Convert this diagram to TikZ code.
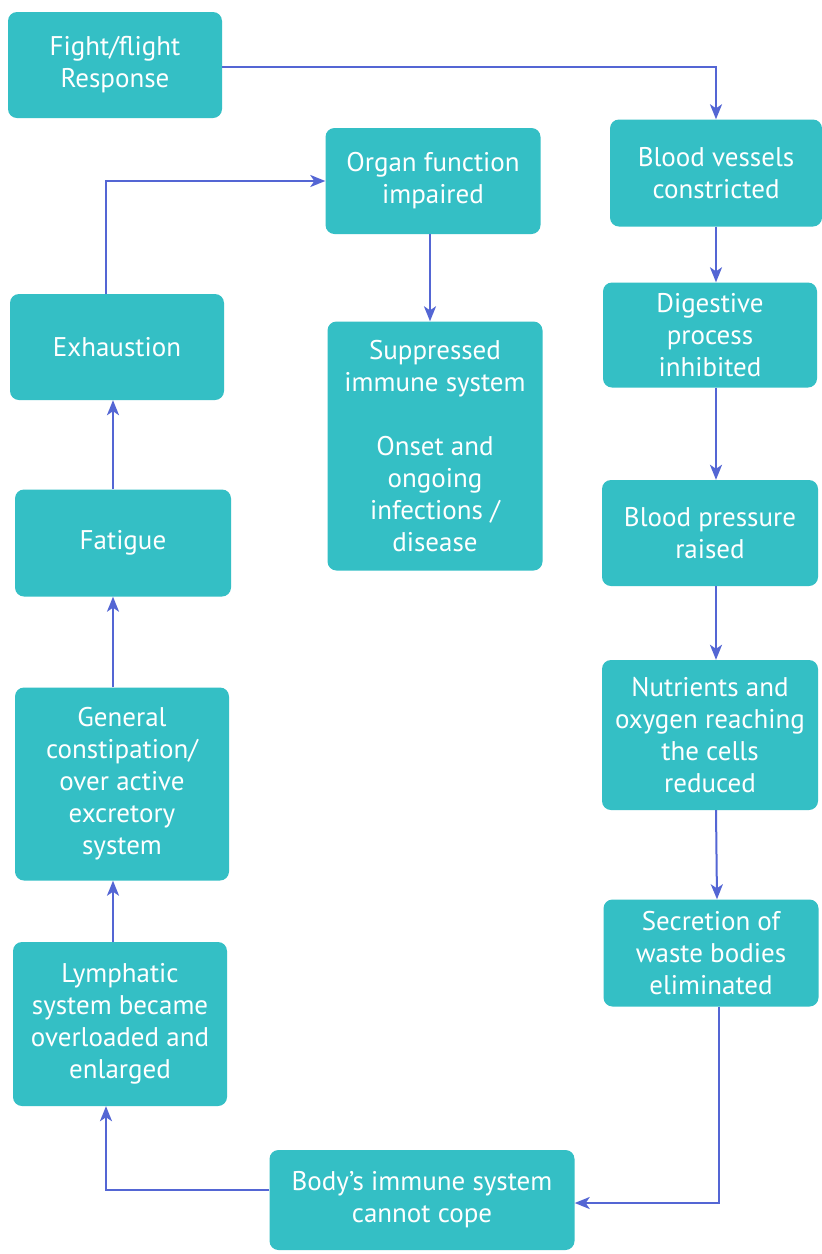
\documentclass[tikz,border=0pt]{standalone}
\usepackage{fontspec}
\setmainfont{PT Sans}
\usetikzlibrary{arrows.meta, positioning, calc}

\definecolor{boxteal}{RGB}{52,191,197}
\definecolor{flowblue}{RGB}{84,102,212}

\tikzset{
  box/.style={fill=boxteal, draw=none, rounded corners=9pt, text=white,
    align=center, font=\fontsize{27}{32}\selectfont, inner sep=4pt},
  flow/.style={draw=flowblue, line width=2pt,
    -{Stealth[length=15pt,width=12pt,inset=4pt]}}
}

\begin{document}
\begin{tikzpicture}[x=1pt,y=-1pt]

\useasboundingbox[fill=white] (0,0) rectangle (822,1254);

% left column
\node[box, minimum width=214pt, minimum height=106pt] (fight) at (115,65) {Fight/flight\\Response};
\node[box, minimum width=214pt, minimum height=106pt] (exhaust) at (117,347) {Exhaustion};
\node[box, minimum width=216pt, minimum height=107pt] (fatigue) at (123,543) {Fatigue};
\node[box, minimum width=214pt, minimum height=193pt] (general) at (122,784) {General\\constipation/\\over active\\excretory\\system};
\node[box, minimum width=214pt, minimum height=164pt] (lymph) at (120,1024) {Lymphatic\\system became\\overloaded and\\enlarged};

% middle column
\node[box, minimum width=215pt, minimum height=106pt] (organ) at (433,181) {Organ function\\impaired};
\node[box, minimum width=215pt, minimum height=249pt] (suppressed) at (435,446) {Suppressed\\immune system\\[32pt]Onset and\\ongoing\\infections /\\disease};
\node[box, minimum width=305pt, minimum height=100pt] (body) at (422,1200) {Body’s immune system\\cannot cope};

% right column
\node[box, minimum width=212pt, minimum height=107pt] (vessels) at (716,173) {Blood vessels\\constricted};
\node[box, minimum width=214pt, minimum height=105pt] (digestive) at (710,335) {Digestive\\process\\inhibited};
\node[box, minimum width=216pt, minimum height=106pt] (pressure) at (710,533) {Blood pressure\\raised};
\node[box, minimum width=216pt, minimum height=150pt] (nutrients) at (710,735) {Nutrients and\\oxygen reaching\\the cells\\reduced};
\node[box, minimum width=215pt, minimum height=107pt] (secretion) at (711,953) {Secretion of\\waste bodies\\eliminated};

% connectors
\draw[flow] ([yshift=-2pt]fight.east) -| (vessels.north);
\draw[flow] (vessels.south) -- (vessels.south |- digestive.north);
\draw[flow] ([xshift=6pt]digestive.south) -- ([xshift=6pt]pressure.north);
\draw[flow] ([xshift=6pt]pressure.south) -- ([xshift=6pt]nutrients.north);
\draw[flow] ([xshift=6pt]nutrients.south) -- ([xshift=6pt]secretion.north);
\draw[flow] ([xshift=8pt]secretion.south) |- ([yshift=-3pt]body.east);
\draw[flow] ([yshift=10pt]body.west) -| ([xshift=-14pt]lymph.south);
\draw[flow] ([xshift=-7pt]lymph.north) -- ([xshift=-9pt]general.south);
\draw[flow] ([xshift=-9pt]general.north) -- ([xshift=-10pt]fatigue.south);
\draw[flow] ([xshift=-10pt]fatigue.north) -- ([xshift=-4pt]exhaust.south);
\draw[flow] ([xshift=-11pt]exhaust.north) |- (organ.west);
\draw[flow] ([xshift=-3pt]organ.south) -- ([xshift=-3pt]organ.south |- suppressed.north);

\end{tikzpicture}
\end{document}
